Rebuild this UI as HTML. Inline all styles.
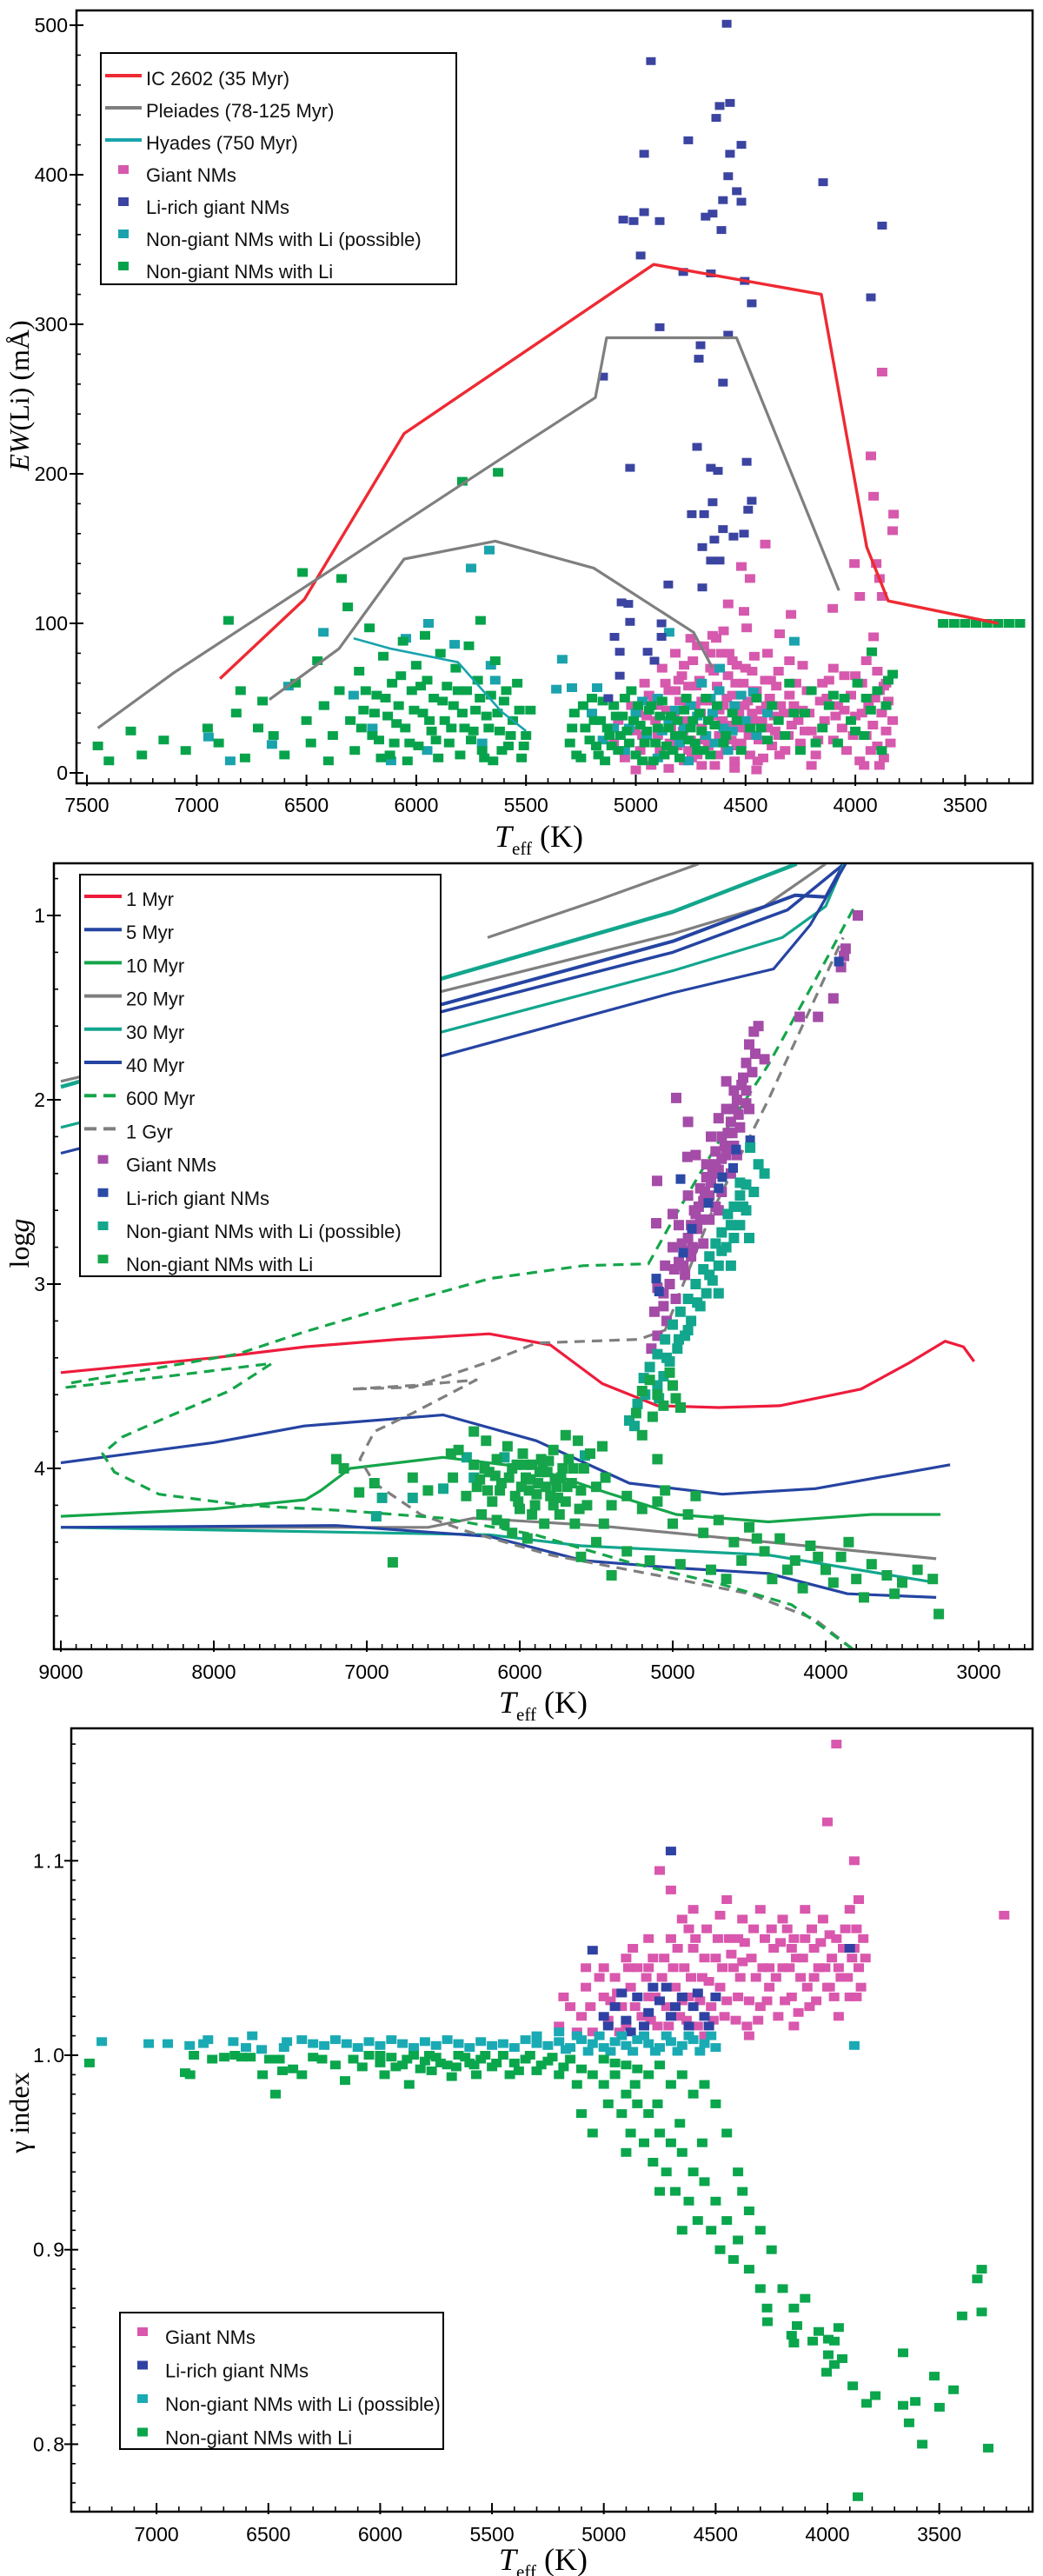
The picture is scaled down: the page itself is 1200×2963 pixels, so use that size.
<!DOCTYPE html>
<html><head><meta charset="utf-8"><style>
html,body{margin:0;padding:0;background:#fff;}
svg{display:block;font-family:"Liberation Sans",sans-serif;}
</style></head>
<body>
<svg id="fig" width="1200" height="2963" viewBox="0 0 1200 2963" xmlns="http://www.w3.org/2000/svg"></svg>
<script>
// ===== Panel 1 data: EW(Li) vs Teff =====
const p1XTicks = [7500,7000,6500,6000,5500,5000,4500,4000,3500];
const p1YTicks = [0,100,200,300,400,500];
const p1IC2602 = [[6894,63],[6510,116],[6055,227],[4919,340],[4155,320],[3948,151],[3850,115],[3350,100]];
const p1PleiadesUpper = [[7450,30],[7104,67],[5521,219],[5184,251],[5133,291],[4541,291],[4075,122]];
const p1PleiadesLower = [[6669,49],[6352,83],[6055,143],[5640,155],[5192,137],[4737,94],[4650,70]];
const p1Hyades = [[6285,90],[6115,83],[5810,74],[5612,41],[5500,28]];
const p1Giant = [[5100,20],[5080,35],[5050,10],[5020,45],[5000,28],[4980,15],[4960,60],[4950,38],[4930,5],[4920,50],[4900,25],[4880,70],[4870,12],[4860,42],[4850,55],[4840,30],[4820,80],[4810,18],[4800,48],[4790,65],[4780,8],[4770,35],[4760,58],[4750,22],[4740,75],[4730,45],[4720,12],[4710,62],[4700,30],[4690,85],[4680,50],[4670,18],[4660,70],[4650,38],[4640,5],[4630,58],[4620,25],[4610,80],[4600,45],[4590,15],[4580,65],[4570,32],[4560,52],[4550,8],[4540,72],[4530,40],[4520,20],[4510,60],[4500,30],[4490,48],[4480,12],[4470,68],[4460,35],[4450,55],[4440,22],[4430,42],[4420,10],[4410,62],[4400,30],[4390,50],[4380,18],[4370,38],[4360,58],[4350,25],[4340,45],[4320,15],[4300,52],[4290,32],[4270,60],[4250,20],[4240,42],[4220,55],[4200,28],[4180,12],[4160,48],[4140,35],[4120,62],[4100,22],[4080,45],[4060,30],[4040,15],[4020,52],[4000,38],[3980,8],[3970,60],[3950,25],[3940,45],[3920,32],[3900,18],[3890,55],[3880,40],[3870,10],[3860,28],[3850,48],[3840,20],[3830,35],[3960,5],[3890,5],[4700,5],[4550,3],[4850,3],[5000,2],[4450,2],[4200,5],[4650,92],[4750,90],[4600,95],[4400,80],[4300,75],[4100,70],[4000,65],[3900,68],[3878,268],[3929,212],[3917,185],[3826,173],[3830,162],[4410,153],[4519,138],[4480,130],[4004,140],[3905,140],[3890,130],[3980,118],[3878,118],[4579,113],[4507,108],[4103,110],[4293,106],[4495,97],[4345,93],[3917,91],[4634,90],[4575,80],[4400,80],
[4990,40],[4970,25],[4940,52],[4910,35],[4890,15],[4865,60],[4845,20],[4825,40],[4805,62],[4785,28],[4765,45],[4745,10],[4725,58],[4705,40],[4685,22],[4665,48],[4645,68],[4625,12],[4605,35],[4585,50],[4565,22],[4545,60],[4525,30],[4505,45],[4485,25],[4465,55],[4445,8],[4425,35],[4405,45],[4385,62],[4365,28],[4345,12],[4325,40],[4305,25],[4280,45],[4260,35],[4230,28],[4210,40],[4170,22],[4130,50],[4090,38],[4050,42],[4010,25],[3970,40],[3930,15],[3910,50],[3870,58],[4780,72],[4720,85],[4660,80],[4560,75],[4500,70],[4460,78],[4350,68],[4240,72],[4150,60],[4050,65],[3950,75],[3860,60],[4900,45],[4820,55],[4760,15],[4700,48],[4620,42],[4540,18],[4470,40]];
const p1LiRich = [[4586,501],[4931,476],[4618,446],[4571,448],[4634,438],[4761,423],[4962,414],[4571,414],[4519,420],[4579,399],[4540,389],[4603,383],[4519,382],[4147,395],[5057,370],[5010,369],[4962,375],[4891,369],[4682,372],[4650,374],[4610,363],[3878,366],[4978,346],[4784,335],[4658,334],[4504,329],[4472,314],[3929,318],[4891,298],[4579,293],[4705,286],[4713,277],[5149,265],[4603,261],[4721,218],[5026,204],[4658,204],[4626,202],[4495,208],[4650,181],[4472,182],[4745,173],[4689,173],[4488,176],[4603,163],[4642,156],[4555,158],[4507,160],[4697,151],[4658,142],[4618,142],[4852,126],[4697,124],[5065,114],[5034,113],[5026,101],[4883,100],[4883,91],[5097,91],[4946,81],[5073,81],[4915,75],[5073,65],[5125,50]];
const p1Possible = [[6946,24],[6847,8],[6657,19],[6582,58],[6420,45],[6423,94],[6285,52],[6115,8],[6047,90],[5944,100],[5825,86],[5750,137],[5667,149],[5660,72],[5640,62],[6200,30],[5950,15],[5700,20],[5335,76],[5362,56],[5291,57],[5176,57],[4848,94],[4278,88],[4464,54],[4618,70],[5100,30],[5050,15],[5000,40],[4950,25],[4900,50],[4850,35],[4800,20],[4750,45],[4700,60],[4680,25],[4650,40],[4620,55],[4600,30],[4580,15],[4550,45],[4500,35],[4450,25],[4400,40],[5200,40],[5150,22],[4900,10],[4760,8],[4880,28],[4820,42],[4780,30],[4720,38],[4660,50],[4640,20],[4560,28],[4520,52],[5030,30],[4970,48]];
const p1NonGiant = [[7450,18],[7400,8],[7300,28],[7250,12],[7150,22],[7050,15],[6950,30],[6900,20],[6855,102],[6820,40],[6800,55],[6780,10],[6720,30],[6700,48],[6650,25],[6600,12],[6550,60],[6518,134],[6500,35],[6480,20],[6450,75],[6420,45],[6400,8],[6380,25],[6350,55],[6340,130],[6312,111],[6300,35],[6280,15],[6260,68],[6240,42],[6213,97],[6200,25],[6180,52],[6160,10],[6150,78],[6130,38],[6110,60],[6100,20],[6080,45],[6060,88],[6050,30],[6040,8],[6020,55],[6000,72],[5990,18],[5970,40],[5960,92],[5950,62],[5930,28],[5920,50],[5900,10],[5890,80],[5870,35],[5860,58],[5850,20],[5830,45],[5820,70],[5800,12],[5790,195],[5780,30],[5770,55],[5760,85],[5750,22],[5730,42],[5720,62],[5707,102],[5700,15],[5680,38],[5660,52],[5650,8],[5640,75],[5627,201],[5620,28],[5600,48],[5580,18],[5560,35],[5540,60],[5520,10],[5500,25],[5480,42],[5300,20],[5280,40],[5250,10],[5230,30],[5200,50],[5180,18],[5160,35],[5140,8],[5120,25],[5100,45],[5080,15],[5060,38],[5040,28],[5020,55],[5000,12],[4980,32],[4960,20],[4940,42],[4920,8],[4900,30],[4880,48],[4860,18],[4840,38],[4820,25],[4800,10],[4780,42],[4760,22],[4740,35],[4720,15],[4700,28],[4680,50],[4660,12],[4640,32],[4600,20],[4560,40],[4520,15],[4480,30],[4450,50],[4400,22],[4350,35],[4300,60],[4280,40],[4250,15],[4200,55],[4150,30],[4120,45],[4080,20],[4050,50],[4020,35],[3990,60],[3960,25],[3930,42],[3900,55],[3880,15],[3860,45],[3850,62],[3925,81],[3830,66],[3600,100],[3550,100],[3500,100],[3450,100],[3400,100],[3350,100],[3300,100],[3250,100],
[6250,30],[6230,55],[6190,40],[6170,22],[6140,50],[6120,12],[6090,33],[6070,65],[6030,20],[6010,42],[5980,58],[5940,35],[5910,22],[5880,48],[5840,30],[5810,55],[5790,40],[5740,28],[5710,50],[5690,10],[5670,30],[5630,40],[5610,15],[5590,55],[5570,25],[5530,42],[5510,18],[5290,30],[5270,12],[5240,45],[5210,22],[5190,35],[5170,12],[5150,48],[5130,30],[5110,18],[5090,38],[5070,25],[5050,50],[5030,20],[5010,35],[4990,45],[4970,8],[4950,28],[4930,45],[4910,20],[4890,38],[4870,12],[4850,30],[4830,15],[4810,35],[4790,25],[4770,50],[4750,30],[4730,20],[4710,40],[4690,15],[4670,35],[4630,45],[4590,25],[4540,35],[4430,30],[4380,45],[4320,25],[4230,40],[4180,20],[4100,52],[4000,28],[3950,50]];

// ===== Panel 2 data: logg vs Teff =====
const p2XTicks = [9000,8000,7000,6000,5000,4000,3000];
const p2YTicks = [1,2,3,4];
const p2Myr1 = [[9000,3.48],[8000,3.40],[7400,3.34],[6800,3.30],[6200,3.27],[5800,3.33],[5460,3.54],[5100,3.66],[4700,3.67],[4300,3.66],[3770,3.57],[3460,3.43],[3220,3.31],[3100,3.34],[3030,3.42]];
const p2Myr5 = [[9000,3.97],[8000,3.86],[7409,3.77],[6500,3.71],[5892,3.85],[5284,4.08],[4676,4.14],[4068,4.11],[3187,3.98]];
const p2Myr10 = [[9000,4.26],[8000,4.22],[7400,4.17],[7300,4.12],[7108,4.0],[6500,3.94],[5900,4.0],[5437,4.13],[4977,4.25],[4375,4.29],[3700,4.25],[3250,4.25]];
const p2Myr20 = [[9000,4.32],[6600,4.32],[6300,4.27],[5500,4.31],[4375,4.40],[3278,4.49]];
const p2Myr30 = [[9000,4.32],[6200,4.36],[5600,4.42],[4375,4.47],[3278,4.62]];
const p2Myr40 = [[9000,4.32],[7200,4.31],[6193,4.37],[5585,4.50],[4977,4.54],[4375,4.57],[3858,4.68],[3278,4.70]];
const p2Gray20Top = [[6210,1.12],[5500,0.92],[4830,0.72]];
const p2Gray20Mid = [[9000,1.90],[6500,1.41],[5000,1.10],[4400,0.95],[4000,0.72]];
const p2Teal30Top = [[9000,1.93],[6500,1.34],[5000,0.98],[4190,0.72]];
const p2Blue40Top = [[7800,1.75],[6500,1.48],[5000,1.14],[4200,0.89],[4000,0.90],[3880,0.72]];
const p2Blue5Top = [[7800,1.80],[6500,1.52],[5000,1.20],[4250,0.97],[3880,0.72]];
const p2Teal30Low = [[9000,2.15],[6500,1.63],[5000,1.30],[4284,1.12],[4000,0.95],[3880,0.72]];
const p2Blue40Low = [[9000,2.29],[6500,1.76],[5000,1.42],[4341,1.29],[4100,1.05],[3870,0.72]];
const p2Myr600 = [[3824,4.98],[4222,4.74],[4676,4.63],[5284,4.51],[5900,4.36],[6500,4.27],[7125,4.23],[7800,4.20],[8358,4.14],[8650,4.02],[8727,3.92],[8600,3.83],[8300,3.72],[7900,3.58],[7620,3.43],[8300,3.50],[8960,3.56],[8960,3.54],[7847,3.38],[7409,3.26],[6801,3.11],[6193,2.97],[5585,2.90],[5159,2.89],[4977,2.62],[4680,2.20],[4375,1.81],[4068,1.35],[3810,0.95]];
const p2Gyr1 = [[3824,4.98],[4068,4.82],[4500,4.68],[5100,4.58],[5800,4.47],[6350,4.34],[6648,4.25],[6950,4.08],[7045,3.95],[6950,3.80],[6700,3.70],[6284,3.52],[6700,3.55],[7102,3.57],[6700,3.56],[6193,3.42],[5892,3.32],[5222,3.30],[5050,3.25],[4750,2.62],[4375,2.00],[3886,1.12]];
const p2Giant = [[3790,1.0],[3880,1.22],[3870,1.18],[3900,1.28],[3950,1.45],[4050,1.55],[4170,1.55],[4440,1.60],[4470,1.63],[4500,1.70],[4460,1.75],[4520,1.80],[4480,1.85],[4400,1.78],[4550,1.92],[4600,1.95],[4580,2.00],[4520,2.02],[4650,2.05],[4700,2.1],[4620,2.12],[4560,2.15],[4900,2.12],[4680,2.2],[4600,2.25],[4720,2.28],[4650,2.3],[4780,2.35],[4700,2.38],[4620,2.4],[4750,2.45],[4820,2.48],[4680,2.5],[4900,2.52],[4800,2.55],[4720,2.58],[4860,2.6],[4760,2.65],[4960,2.68],[4840,2.7],[4900,2.75],[4800,2.78],[5000,2.80],[4880,2.85],[4960,2.88],[5050,2.9],[4920,2.95],[5020,3.0],[5100,3.02],[4980,3.08],[5060,3.12],[5120,3.15],[5040,3.2],[5100,3.28],[5140,3.35],[4500,2.05],[4580,2.3],[4700,2.6],[5000,2.62],[4977,1.99],[4904,2.31],[5102,2.44],[5108,2.67],[4850,2.3],[4650,1.9],[4750,2.2],[4540,1.88],[4610,2.18],[4780,2.42],[4850,2.62],[4930,2.82],[5060,3.05],[4570,2.08],[4640,2.18],[4680,2.32],[4740,2.4],[4790,2.5],[4830,2.58],[4880,2.68],[4940,2.78],[4990,2.92],[4520,1.95],[4600,2.05],[4660,2.25],[4720,2.35],[4760,2.52],[4820,2.65],[4870,2.8],[4930,2.9]];
const p2LiRich = [[3914,1.25],[4494,2.22],[4586,2.27],[4605,2.37],[4676,2.42],[4700,2.48],[4767,2.56],[4949,2.43],[4875,2.70],[4932,2.83],[5108,2.97],[5090,3.04]];
const p2Possible = [[4494,2.26],[4440,2.35],[4520,2.46],[4470,2.5],[4560,2.52],[4600,2.58],[4520,2.6],[4640,2.62],[4560,2.68],[4680,2.72],[4600,2.75],[4720,2.78],[4650,2.8],[4760,2.85],[4700,2.9],[4800,2.92],[4740,2.98],[4850,3.0],[4780,3.05],[4900,3.08],[4820,3.12],[4950,3.15],[4880,3.2],[5000,3.22],[4920,3.28],[5050,3.3],[4970,3.35],[5100,3.38],[5020,3.42],[5150,3.45],[5060,3.5],[5190,3.51],[5100,3.55],[5000,3.55],[5180,3.6],[5090,3.62],[5230,3.65],[5284,3.74],[5250,3.77],[4620,2.9],[4500,2.75],[4560,2.45],[4700,3.05],[4400,2.4],[6500,4.11],[6700,4.16],[6900,4.16],[6938,4.26],[6347,3.94],[6300,4.05],[6100,3.94],[5574,3.93],[4540,2.58],[4620,2.68],[4680,2.82],[4760,2.95],[4840,3.1],[4900,3.25],[4960,3.3],[5040,3.4]];
const p2NonGiant = [[5239,3.70],[5131,3.72],[4949,3.67],[5100,3.60],[5000,3.55],[5150,3.52],[4980,3.62],[5060,3.66],[5200,3.58],[5020,3.48],[6437,4.05],[6400,3.9],[6350,4.15],[6300,3.98],[6280,4.1],[6250,4.25],[6220,3.85],[6200,4.02],[6180,4.18],[6150,3.95],[6120,4.08],[6100,4.3],[6080,3.88],[6050,4.0],[6030,4.15],[6000,4.22],[5980,3.92],[5960,4.05],[5940,4.12],[5920,3.98],[5900,4.2],[5880,4.08],[5860,3.95],[5840,4.3],[5820,4.02],[5800,4.15],[5780,3.9],[5760,4.1],[5740,4.25],[5720,4.0],[5700,4.18],[5680,3.95],[5660,4.08],[5640,4.3],[5620,3.85],[5600,4.12],[5580,4.0],[5560,4.2],[5540,3.92],[5500,4.1],[5460,3.88],[5440,4.05],[6050,4.35],[5950,4.38],[6150,4.28],[5850,4.0],[5990,4.1],[6020,3.98],[5920,4.25],[6230,4.0],[5780,4.2],[6300,3.8],[6450,3.92],[5700,3.82],[5200,3.82],[5100,3.95],[7199,3.95],[7150,4.0],[7050,4.13],[6950,4.08],[6830,4.51],[6700,4.05],[6600,4.12],[5400,4.2],[5300,4.15],[5200,4.22],[5100,4.18],[5000,4.3],[4900,4.25],[4800,4.35],[4700,4.28],[4600,4.4],[4500,4.32],[4400,4.45],[4300,4.38],[4200,4.5],[4100,4.42],[4000,4.55],[3900,4.48],[3800,4.6],[3700,4.52],[3600,4.58],[3500,4.62],[3400,4.55],[3300,4.6],[3261,4.79],[5500,4.4],[5300,4.45],[5150,4.5],[4950,4.52],[4750,4.55],[4550,4.5],[4350,4.6],[4150,4.65],[3950,4.62],[3750,4.7],[3550,4.68],[5600,4.48],[5450,4.3],[4850,4.15],[4650,4.6],[4450,4.38],[4050,4.48],[3850,4.4],[5400,4.58],[5050,4.12],[4250,4.55],[6070,4.05],[6010,4.18],[5970,3.98],[5930,4.06],[5890,4.14],[5870,4.02],[5830,4.1],[5810,3.96],[5770,4.06],[5750,4.16],[5730,4.05],[5690,4.1],[5650,4.0],[5610,4.22],[6130,4.12],[6160,4.04],[6210,4.12],[6260,4.06]];

// ===== Panel 3 data: gamma index vs Teff =====
const p3XTicks = [7000,6500,6000,5500,5000,4500,4000,3500];
const p3YTicks = [0.8,0.9,1.0,1.1];
const p3YTickLabels = ["0.8","0.9","1.0","1.1"];
const p3Giant = [[5200,1.015],[5150,1.025],[5100,1.02],[5080,1.035],[5050,1.012],[5000,1.03],[4980,1.018],[4950,1.04],[4920,1.025],[4900,1.015],[4880,1.035],[4850,1.045],[4830,1.02],[4800,1.03],[4780,1.05],[4760,1.015],[4740,1.04],[4720,1.025],[4700,1.06],[4680,1.035],[4660,1.02],[4640,1.045],[4620,1.03],[4600,1.055],[4580,1.015],[4560,1.04],[4540,1.065],[4520,1.025],[4500,1.05],[4480,1.035],[4460,1.02],[4440,1.06],[4420,1.045],[4400,1.03],[4380,1.07],[4360,1.015],[4340,1.05],[4320,1.04],[4300,1.025],[4280,1.06],[4260,1.035],[4240,1.055],[4220,1.02],[4200,1.045],[4180,1.065],[4160,1.03],[4140,1.05],[4120,1.04],[4100,1.06],[4080,1.025],[4060,1.055],[4040,1.045],[4020,1.07],[4000,1.035],[3980,1.05],[3960,1.06],[3940,1.04],[3920,1.065],[3900,1.03],[3880,1.055],[3860,1.045],[3850,1.035],[3840,1.06],[3830,1.05],[4650,1.07],[4450,1.08],[4300,1.075],[4100,1.075],[3900,1.075],[4700,1.085],[4750,1.095],[4200,1.07],[3960,1.16],[4000,1.12],[3210,1.072],[4900,1.05],[5000,1.045],[4550,1.01],[4350,1.01],[4150,1.015],[3950,1.02],[3870,1.03],[4800,1.06],[4600,1.075],[4400,1.06],[3880,1.1],[3860,1.08],
[5180,1.03],[5120,1.012],[5060,1.025],[5020,1.04],[4970,1.028],[4930,1.012],[4890,1.045],[4860,1.025],[4810,1.04],[4790,1.018],[4770,1.03],[4730,1.05],[4710,1.015],[4690,1.045],[4670,1.055],[4650,1.028],[4630,1.018],[4610,1.04],[4590,1.06],[4570,1.028],[4550,1.05],[4530,1.038],[4510,1.018],[4490,1.06],[4470,1.045],[4450,1.028],[4430,1.052],[4410,1.018],[4390,1.04],[4370,1.058],[4350,1.028],[4330,1.065],[4310,1.018],[4290,1.045],[4270,1.028],[4250,1.065],[4230,1.04],[4210,1.058],[4190,1.028],[4170,1.045],[4150,1.06],[4130,1.022],[4110,1.05],[4090,1.035],[4070,1.065],[4050,1.028],[4030,1.058],[4010,1.045],[3990,1.062],[3970,1.03],[3950,1.045],[3930,1.055],[3910,1.04],[3890,1.05],[3870,1.065],[4620,1.065],[4480,1.072],[4380,1.048],[4260,1.045],[4160,1.055],[4060,1.04],[3990,1.035],[4800,1.045],[4870,1.055],[4940,1.032],[5080,1.045]];
const p3LiRich = [[5050,1.054],[4700,1.105],[3900,1.055],[5000,1.02],[4950,1.025],[4900,1.018],[4850,1.03],[4800,1.022],[4750,1.028],[4700,1.02],[4650,1.03],[4600,1.025],[4550,1.02],[4500,1.03],[4880,1.012],[4720,1.035],[4620,1.015],[4980,1.015],[4920,1.032],[4820,1.015],[4780,1.035],[4680,1.025],[4580,1.032],[4530,1.015]];
const p3Possible = [[7245,1.007],[7035,1.006],[6950,1.006],[6852,1.005],[6790,1.006],[6770,1.008],[6657,1.007],[6600,1.004],[6572,1.010],[6530,1.003],[6430,1.004],[6417,1.007],[6350,1.008],[6300,1.006],[6250,1.005],[6200,1.008],[6150,1.006],[6100,1.004],[6050,1.007],[6000,1.005],[5950,1.008],[5900,1.006],[5850,1.004],[5800,1.007],[5750,1.005],[5700,1.008],[5650,1.006],[5600,1.004],[5550,1.007],[5500,1.005],[5450,1.006],[5400,1.004],[5350,1.008],[5300,1.006],[5250,1.005],[5200,1.007],[5150,1.004],[5100,1.008],[5050,1.006],[5000,1.004],[4950,1.007],[4900,1.005],[4850,1.008],[4800,1.006],[4750,1.004],[4700,1.007],[4650,1.005],[4600,1.008],[4550,1.006],[4500,1.004],[3880,1.005],[5300,1.01],[5200,1.012],[5170,1.003],[5120,1.01],[5070,1.002],[5020,1.01],[4970,1.002],[4920,1.01],[4870,1.002],[4820,1.01],[4770,1.002],[4720,1.01],[4670,1.002],[4620,1.01],[4570,1.002],[4520,1.01]];
const p3NonGiant = [[7300,0.996],[6872,0.991],[6850,0.990],[6833,1.0],[6751,0.998],[6697,0.999],[6650,1.0],[6620,0.999],[6580,0.999],[6526,0.990],[6495,0.998],[6468,0.980],[6450,0.998],[6437,0.992],[6390,0.993],[6350,0.990],[6300,0.999],[6260,0.998],[6200,0.995],[6157,0.987],[6120,0.998],[6080,0.994],[6050,1.0],[6000,0.996],[5980,0.990],[5950,0.999],[5900,0.995],[5870,0.985],[5850,1.0],[5800,0.997],[5770,0.992],[5750,0.999],[5700,0.995],[5680,0.989],[5650,1.0],[5600,0.996],[5570,0.99],[5550,0.998],[5500,0.994],[5450,1.0],[5420,0.99],[5400,0.996],[5350,0.998],[5300,0.992],[5250,0.997],[5200,0.99],[5150,0.998],[5120,0.985],[5100,0.993],[5050,0.99],[5000,0.985],[4980,0.975],[4950,0.99],[4920,0.97],[4900,0.98],[4880,0.96],[4850,0.975],[4820,0.955],[4800,0.97],[4780,0.945],[4750,0.96],[4720,0.94],[4700,0.955],[4680,0.93],[4650,0.95],[4620,0.925],[4600,0.94],[4580,0.915],[4550,0.935],[4520,0.91],[4500,0.925],[4480,0.90],[4450,0.915],[4420,0.895],[4400,0.905],[4350,0.89],[4300,0.88],[4270,0.87],[5100,0.97],[5050,0.96],[4900,0.95],[4750,0.93],[4650,0.91],[4900,0.995],[4800,0.99],[4700,0.985],[4600,0.98],[4500,0.975],[4400,0.94],[4350,0.92],[4300,0.91],[4200,0.88],[4150,0.87],[4268,0.863],[4136,0.861],[4160,0.856],[4150,0.852],[4066,0.853],[4039,0.858],[3996,0.854],[3969,0.853],[3996,0.846],[3934,0.844],[3969,0.841],[4004,0.837],[3887,0.830],[3825,0.821],[3786,0.825],[3662,0.847],[3662,0.820],[3607,0.822],[3635,0.811],[3576,0.800],[3522,0.835],[3499,0.819],[3436,0.828],[3281,0.798],[3864,0.773],[3398,0.866],[3310,0.868],[3330,0.885],[3310,0.89],
[6000,1.0],[5930,0.994],[5880,0.998],[5820,0.993],[5780,1.0],[5730,0.996],[5660,0.994],[5620,0.999],[5580,0.995],[5530,1.0],[5480,0.996],[5380,0.992],[5330,1.0],[5280,0.995],[5230,0.999],[5180,0.994],[5000,0.998],[4950,0.996],[4850,0.993],[4750,0.995],[4650,0.99],[4550,0.985],[4450,0.96],[4380,0.93],[4250,0.9],[4100,0.875],[3950,0.86],[4860,0.985],[4760,0.975],[4660,0.965],[4560,0.955]];

const SVGNS = "http://www.w3.org/2000/svg";
const fig = document.getElementById('fig');
function mk(tag, attrs, parent){
  const e = document.createElementNS(SVGNS, tag);
  for (const k in attrs) e.setAttribute(k, attrs[k]);
  (parent||fig).appendChild(e);
  return e;
}
const p1x = T => 100 + (7500 - T) * 0.2526, p1y = v => 889 - v * 1.72;
const p2x = T => 70 + (9000 - T) * 0.176,  p2y = g => 1053 + (g - 1) * 212;
const p3x = T => 952 + (4000 - T) * 0.2573, p3y = v => 2364 - (v - 1) * 2237;

function frame(name, x0, y0, x1, y1){
  const g = mk('g', {});
  
  
  const r = mk('rect', {x:x0, y:y0, width:x1-x0, height:y1-y0, fill:'none', stroke:'#000', 'stroke-width':2.5}, g);
  
  
  return g;
}
function xAxis(name, sx, yb, majors, minorFrom, minorTo, labelY){
  const g = mk('g', {});
  
  
  for (let t = minorFrom; t >= minorTo; t -= 100){
    mk('line', {x1:sx(t), x2:sx(t), y1:yb, y2:yb-6, stroke:'#000', 'stroke-width':1.6}, g);
  }
  majors.forEach(t => {
    mk('line', {x1:sx(t), x2:sx(t), y1:yb+3, y2:yb-10, stroke:'#000', 'stroke-width':2}, g);
    const tx = mk('text', {x:sx(t), y:labelY, 'font-size':23, 'text-anchor':'middle', fill:'#000'}, g);
    
    
    tx.textContent = t;
  });
}
function yAxis(name, sy, xl, majors, labels, minorVals, labelX, ls){
  const g = mk('g', {});
  
  
  minorVals.forEach(v => mk('line', {x1:xl, x2:xl+5, y1:sy(v), y2:sy(v), stroke:'#000', 'stroke-width':1.6}, g));
  majors.forEach((v,i) => {
    mk('line', {x1:xl-8, x2:xl+8, y1:sy(v), y2:sy(v), stroke:'#000', 'stroke-width':2}, g);
    const tx = mk('text', {x:labelX, y:sy(v)+8, 'font-size':23, 'text-anchor':'end', fill:'#000', 'letter-spacing':ls||0}, g);
    
    
    tx.textContent = labels[i];
  });
}
function line(name, pts, sx, sy, color, w, dash){
  const d = pts.map((p,i) => (i?'L':'M') + sx(p[0]).toFixed(1) + ' ' + sy(p[1]).toFixed(1)).join(' ');
  const e = mk('path', {d:d, fill:'none', stroke:color, 'stroke-width':w, 'stroke-linejoin':'round', 'stroke-dasharray':dash||'none'});
  
  
}
function scatter(name, pts, sx, sy, color, w, h){
  const g = mk('g', {fill:color});
  
  
  pts.forEach(p => {
    const r = mk('rect', {x:(sx(p[0])-w/2).toFixed(1), y:(sy(p[1])-h/2).toFixed(1), width:w, height:h}, g);
    
    
  });
}
function xTitle(name, cx, y){
  const t = mk('text', {x:cx, y:y, 'font-family':'"Liberation Serif",serif', 'font-size':36, 'text-anchor':'middle', fill:'#000'});
  
  
  t.innerHTML = '<tspan font-style="italic">T</tspan><tspan font-size="21" dy="9">eff</tspan><tspan dy="-9"> (K)</tspan>';
}
function yTitle(name, cy, html){
  const t = mk('text', {x:0, y:0, transform:'translate(33,'+cy+') rotate(-90)', 'font-family':'"Liberation Serif",serif', 'font-size':32, 'text-anchor':'middle', fill:'#000'});
  
  
  t.innerHTML = html;
}
function legend(name, x0, y0, x1, y1, entries, lineX0, lineX1, textX, rowY0, rowDy, fs){
  const g = mk('g', {});
  
  
  mk('rect', {x:x0, y:y0, width:x1-x0, height:y1-y0, fill:'#fff', stroke:'#000', 'stroke-width':2}, g);
  entries.forEach((en, i) => {
    const yy = rowY0 + i*rowDy;
    const eg = mk('g', {}, g);
    
    
    if (en.type === 'line') mk('line', {x1:lineX0, x2:lineX1, y1:yy-3, y2:yy-3, stroke:en.color, 'stroke-width':4, 'stroke-dasharray':en.dash||'none'}, eg);
    else { const cx=(lineX0+lineX1)/2; mk('rect', {x:cx-6, y:yy-11, width:12, height:10, fill:en.color}, eg); }
    const t = mk('text', {x:textX, y:yy+8, 'font-size':fs, fill:'#111'}, eg);
    t.textContent = en.label;
  });
}

// ---- Panel 1 ----
const RED='#ee2a33', GRAY='#7f7f7f', TEAL1='#1aa3ad', PINK='#d659ad', BLUE='#3b44a1', GREEN='#07a34b';
frame('panel-1-frame', 88, 12, 1188, 901);
xAxis('panel-1-x-axis', p1x, 901, p1XTicks, 7500, 3300, 934);
const p1Minor=[]; for (let v=0; v<=500; v+=20) p1Minor.push(v);
yAxis('panel-1-y-axis', p1y, 88, p1YTicks, p1YTicks.map(String), p1Minor, 78);
scatter('giant-nms-points', p1Giant, p1x, p1y, PINK, 12, 10);
scatter('non-giant-possible-points', p1Possible, p1x, p1y, TEAL1, 12, 10);
scatter('non-giant-li-points', p1NonGiant, p1x, p1y, GREEN, 12, 10);
scatter('li-rich-giant-points', p1LiRich, p1x, p1y, BLUE, 11, 9);
line('ic2602-line', p1IC2602, p1x, p1y, RED, 3.4);
line('pleiades-upper-line', p1PleiadesUpper, p1x, p1y, GRAY, 3.2);
line('pleiades-lower-line', p1PleiadesLower, p1x, p1y, GRAY, 3.2);
line('hyades-line', p1Hyades, p1x, p1y, TEAL1, 2.6);
legend('panel-1-legend', 116, 61, 525, 327, [
  {type:'line', color:RED, label:'IC 2602 (35 Myr)'},
  {type:'line', color:GRAY, label:'Pleiades (78-125 Myr)'},
  {type:'line', color:TEAL1, label:'Hyades (750 Myr)'},
  {type:'sq', color:PINK, label:'Giant NMs'},
  {type:'sq', color:BLUE, label:'Li-rich giant NMs'},
  {type:'sq', color:TEAL1, label:'Non-giant NMs with Li (possible)'},
  {type:'sq', color:GREEN, label:'Non-giant NMs with Li'}], 121, 163, 168, 90, 37, 22);
xTitle('panel-1-x-title', 620, 974);
yTitle('panel-1-y-title', 455, '<tspan font-style="italic">EW</tspan>(Li) (mÅ)');

// ---- Panel 2 ----
const P2RED='#ee1c3c', P2BLUE='#2544a2', P2GREEN='#15a54a', P2TEAL='#12a68d', P2PURPLE='#a44ca8', P2LIBLUE='#2a4aa6';
frame('panel-2-frame', 62, 993, 1188, 1897);
xAxis('panel-2-x-axis', p2x, 1897, p2XTicks, 9000, 2700, 1931);
const p2Minor=[]; for (let v=0.8; v<=4.81; v+=0.2) p2Minor.push(+v.toFixed(1));
yAxis('panel-2-y-axis', p2y, 62, p2YTicks, p2YTicks.map(String), p2Minor, 52);
const clip2 = mk('clipPath', {id:'clip2'}); mk('rect', {x:63, y:994, width:1124, height:902}, clip2);
const l2 = mk('g', {'clip-path':'url(#clip2)'});


function line2(name, pts, color, w, dash){
  const d = pts.map((p,i) => (i?'L':'M') + p2x(p[0]).toFixed(1) + ' ' + p2y(p[1]).toFixed(1)).join(' ');
  const e = mk('path', {d:d, fill:'none', stroke:color, 'stroke-width':w, 'stroke-linejoin':'round', 'stroke-dasharray':dash||'none'}, l2);
  
  
}
line2('iso-20myr-top', p2Gray20Top, GRAY, 3.2);
line2('iso-20myr-mid', p2Gray20Mid, GRAY, 3.2);
line2('iso-30myr-top', p2Teal30Top, P2TEAL, 4.5);
line2('iso-40myr-top', p2Blue40Top, P2BLUE, 4);
line2('iso-5myr-top', p2Blue5Top, P2BLUE, 3.5);
line2('iso-30myr-low', p2Teal30Low, P2TEAL, 3.2);
line2('iso-40myr-low', p2Blue40Low, P2BLUE, 3.2);
line2('iso-20myr-ms', p2Myr20, GRAY, 3.2);
line2('iso-30myr-ms', p2Myr30, P2TEAL, 3.2);
line2('iso-40myr-ms', p2Myr40, P2BLUE, 3.2);
line2('iso-10myr', p2Myr10, P2GREEN, 3.2);
line2('iso-5myr', p2Myr5, P2BLUE, 3.2);
line2('iso-1myr', p2Myr1, P2RED, 3.2);
line2('iso-1gyr', p2Gyr1, GRAY, 3.2, '12,8');
line2('iso-600myr', p2Myr600, P2GREEN, 3.2, '12,8');
scatter('p2-giant-nms-points', p2Giant, p2x, p2y, P2PURPLE, 12, 12);
scatter('p2-li-rich-points', p2LiRich, p2x, p2y, P2LIBLUE, 11, 11);
scatter('p2-possible-points', p2Possible, p2x, p2y, P2TEAL, 12, 12);
scatter('p2-non-giant-points', p2NonGiant, p2x, p2y, P2GREEN, 12, 12);
legend('panel-2-legend', 92, 1006, 507, 1468, [
  {type:'line', color:P2RED, label:'1 Myr'},
  {type:'line', color:P2BLUE, label:'5 Myr'},
  {type:'line', color:P2GREEN, label:'10 Myr'},
  {type:'line', color:GRAY, label:'20 Myr'},
  {type:'line', color:P2TEAL, label:'30 Myr'},
  {type:'line', color:P2BLUE, label:'40 Myr'},
  {type:'line', color:P2GREEN, dash:'14,8', label:'600 Myr'},
  {type:'line', color:GRAY, dash:'14,8', label:'1 Gyr'},
  {type:'sq', color:P2PURPLE, label:'Giant NMs'},
  {type:'sq', color:P2LIBLUE, label:'Li-rich giant NMs'},
  {type:'sq', color:P2TEAL, label:'Non-giant NMs with Li (possible)'},
  {type:'sq', color:P2GREEN, label:'Non-giant NMs with Li'}], 97, 140, 145, 1034, 38.2, 22);
xTitle('panel-2-x-title', 625, 1970);
yTitle('panel-2-y-title', 1430, 'log<tspan font-style="italic">g</tspan>');

// ---- Panel 3 ----
const P3PINK='#d957ad', P3BLUE='#2f42a3', P3TEAL='#1aaab3', P3GREEN='#0aa64c';
frame('panel-3-frame', 82, 1988, 1188, 2889);
xAxis('panel-3-x-axis', p3x, 2889, p3XTicks, 7300, 3100, 2923);
const p3Minor=[]; for (let v=0.77; v<=1.165; v+=0.01) p3Minor.push(+v.toFixed(2));
yAxis('panel-3-y-axis', p3y, 82, p3YTicks, p3YTickLabels, p3Minor, 76, 2);
scatter('p3-giant-nms-points', p3Giant, p3x, p3y, P3PINK, 12, 10);
scatter('p3-li-rich-points', p3LiRich, p3x, p3y, P3BLUE, 12, 10);
scatter('p3-possible-points', p3Possible, p3x, p3y, P3TEAL, 12, 10);
scatter('p3-non-giant-points', p3NonGiant, p3x, p3y, P3GREEN, 12, 10);
legend('panel-3-legend', 138, 2660, 510, 2817, [
  {type:'sq', color:P3PINK, label:'Giant NMs'},
  {type:'sq', color:P3BLUE, label:'Li-rich giant NMs'},
  {type:'sq', color:P3TEAL, label:'Non-giant NMs with Li (possible)'},
  {type:'sq', color:P3GREEN, label:'Non-giant NMs with Li'}], 152, 176, 190, 2688, 38.5, 22);
xTitle('panel-3-x-title', 625, 2956);
yTitle('panel-3-y-title', 2430, 'γ index');
</script>
</body></html>
